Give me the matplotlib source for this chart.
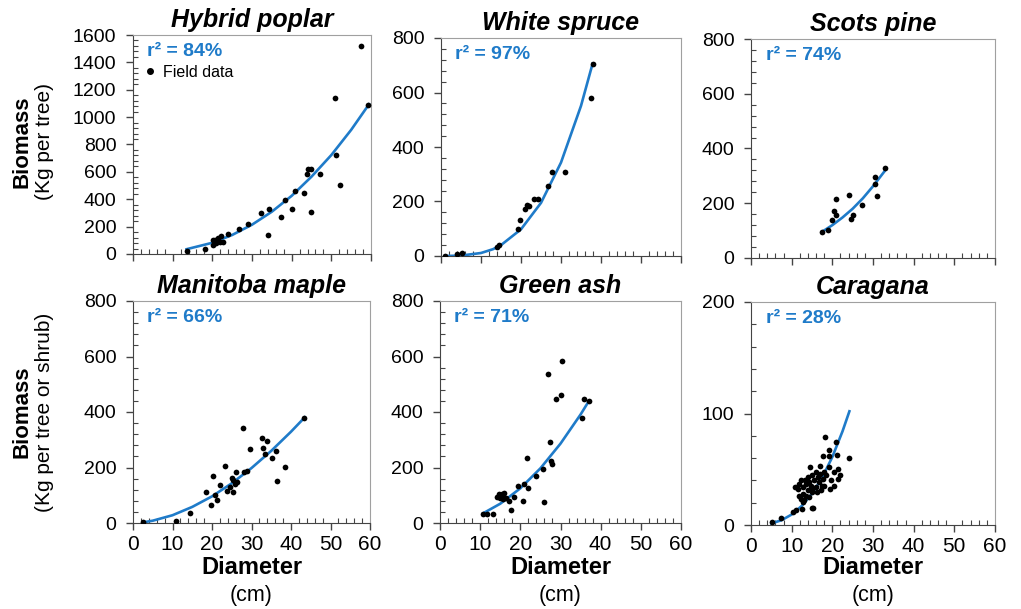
import matplotlib
matplotlib.use('Agg')
import matplotlib.pyplot as plt
from matplotlib.ticker import MultipleLocator
from matplotlib.lines import Line2D

plt.rcParams['font.family'] = ['Liberation Sans', 'DejaVu Sans']

# ---------------- data ----------------
titles = ['Hybrid poplar', 'White spruce', 'Scots pine',
          'Manitoba maple', 'Green ash', 'Caragana']
r2_labels = ['r\u00b2 = 84%', 'r\u00b2 = 97%', 'r\u00b2 = 74%',
             'r\u00b2 = 66%', 'r\u00b2 = 71%', 'r\u00b2 = 28%']

poplar_d = [13.6, 18.1, 20.1, 20.1, 20.7, 21.5, 22.1, 21.9, 22.6, 20.9, 24.0, 26.8, 29.1,
            32.2, 34.4, 34.1, 37.2, 38.3, 40.2, 40.8, 43.2, 43.8, 44.2, 44.9, 44.8, 47.2,
            50.8, 51.3, 52.2, 57.4, 59.3]
poplar_b = [24, 36, 68, 99, 104, 117, 128, 88, 85, 80, 148, 182, 221,
            302, 326, 141, 270, 391, 331, 457, 443, 581, 618, 620, 306, 581,
            1143, 725, 501, 1520, 1087]
poplar_fit_d = [13.5, 20, 25, 30, 35, 40, 45, 50, 55, 59.5]
poplar_fit_b = [35, 82, 139, 214, 309, 425, 565, 723, 907, 1094]

spruce_d = [1.0, 4.1, 5.3, 13.9, 14.6, 19.3, 19.8, 20.9, 21.4, 21.9, 23.3, 24.3, 26.8,
            27.8, 31.0, 37.4, 37.9]
spruce_b = [0, 6, 12, 32, 42, 100, 131, 171, 188, 184, 208, 208, 256,
            307, 307, 578, 705]
spruce_fit_d = [1, 5, 10, 13, 15, 20, 25, 30, 35, 37.9]
spruce_fit_b = [0, 1.5, 11, 25, 40, 98, 195, 343, 551, 706]

pine_d = [17.5, 19.0, 19.9, 20.4, 20.9, 20.9, 24.2, 24.6, 25.0, 27.4, 30.5, 30.5, 31.1, 33.0]
pine_b = [95, 104, 140, 171, 156, 216, 229, 143, 156, 195, 296, 272, 226, 327]
pine_fit_d = [17.4, 20, 22.5, 25, 27.5, 30, 33]
pine_fit_b = [95, 120, 148, 180, 218, 262, 320]

maple_d = [2.5, 10.9, 14.5, 18.5, 19.8, 20.3, 20.7, 21.2, 22.1, 23.2, 23.8, 24.6, 25.0,
           25.3, 25.4, 25.9, 26.0, 26.3, 27.8, 28.0, 28.8, 29.7, 32.6, 33.0, 33.4, 34.0,
           35.3, 36.2, 36.4, 38.6, 43.4]
maple_b = [2, 6, 36, 111, 66, 170, 100, 84, 138, 205, 114, 130, 162,
           110, 154, 141, 184, 146, 344, 182, 187, 268, 308, 271, 247, 296,
           235, 261, 152, 202, 380]
maple_fit_d = [3, 5, 10, 15, 20, 25, 30, 35, 40, 43.5]
maple_fit_b = [3.4, 8.3, 28, 58, 96, 143, 198, 260, 329, 381]

ash_d = [10.8, 11.8, 13.2, 14.2, 14.6, 15.0, 15.4, 15.8, 16.0, 16.5, 15.7, 17.3, 17.7,
         18.5, 19.3, 20.7, 20.8, 21.8, 21.7, 23.9, 25.6, 25.8, 27.3, 27.7, 28.0, 26.9,
         29.0, 30.1, 30.25, 35.4, 35.8, 37.2]
ash_b = [34, 34, 34, 94, 104, 89, 104, 94, 107, 89, 85, 80, 46,
         94, 133, 80, 140, 125, 234, 168, 195, 76, 292, 222, 214, 536,
         448, 461, 582, 377, 446, 438]
ash_fit_d = [10.8, 15, 20, 25, 30, 35, 37]
ash_fit_b = [35.5, 69.5, 125, 197, 286, 391, 438]

caragana_d = [5.1, 7.3, 10.3, 11.0, 12.6, 15.1, 18.2, 19.3, 20.9, 17.6, 19.2, 21.1, 24.2,
              14.5, 17.0, 19.3, 20.3, 21.5, 21.9, 21.5, 16.1, 17.0, 15.1, 16.4, 17.6,
              19.6, 20.3, 19.5, 12.3, 11.9, 11.5, 12.7, 13.5, 14.3, 14.7, 13.9, 15.1,
              15.9, 17.1, 17.5, 16.3, 12.7, 13.5, 12.3, 13.1, 14.3, 15.1, 12.7, 15.3,
              11.7, 10.9, 15.5, 18.0, 18.4, 16.6, 13.9, 13.3, 18.0]
caragana_b = [2.3, 6, 12, 13.5, 14, 15, 79, 67.5, 74, 61.5, 61.5, 62.4, 60,
              52, 53, 52, 47.4, 50.5, 45, 41, 47.4, 46, 44.4, 43, 41.4,
              40, 35.4, 32.4, 40, 37, 32.4, 34, 37, 38.4, 35.4, 31, 32.4,
              34, 31, 35.4, 29.4, 28, 26.4, 23.4, 22, 25, 29.4, 20.4, 15.3,
              26.4, 34, 40, 47.4, 44.4, 38.4, 43, 40.5, 35.4]
caragana_fit_d = [5, 7.5, 10, 12.5, 15, 17.5, 20, 22.5, 24.2]
caragana_fit_b = [1.4, 4.3, 9.4, 17.2, 28.1, 42.5, 61, 84, 102]

x_ticks = [0, 10, 20, 30, 40, 50, 60]
y_ticks_top_left = [0, 200, 400, 600, 800, 1000, 1200, 1400, 1600]
y_ticks_800 = [0, 200, 400, 600, 800]
y_ticks_caragana = [0, 100, 200]

# ---------------- layout ----------------
W, H = 1021, 609
fig = plt.figure(figsize=(W / 100, H / 100), dpi=100)
BLUE = '#1F7BC9'

boxes = [(133, 35, 371, 254), (441, 38, 681, 256), (751, 39, 995, 258),
         (133, 301, 370, 523), (440, 301, 681, 523), (751, 302, 995, 525)]

panels = [
    (poplar_d, poplar_b, poplar_fit_d, poplar_fit_b, y_ticks_top_left, 40),
    (spruce_d, spruce_b, spruce_fit_d, spruce_fit_b, y_ticks_800, 40),
    (pine_d, pine_b, pine_fit_d, pine_fit_b, y_ticks_800, 40),
    (maple_d, maple_b, maple_fit_d, maple_fit_b, y_ticks_800, 40),
    (ash_d, ash_b, ash_fit_d, ash_fit_b, y_ticks_800, 40),
    (caragana_d, caragana_b, caragana_fit_d, caragana_fit_b, y_ticks_caragana, 20),
]

for i, (box, (xd, yd, fx, fy, yt, yminor)) in enumerate(zip(boxes, panels)):
    l, t, r, b = box
    ax = fig.add_axes([l / W, 1 - b / H, (r - l) / W, (b - t) / H])
    ax.plot(fx, fy, color=BLUE, lw=1.9, zorder=2)
    ax.scatter(xd, yd, s=17, color='black', zorder=3, linewidths=0)
    ax.set_xlim(0, 60)
    ax.set_ylim(yt[0], yt[-1])
    ax.set_xticks(x_ticks)
    ax.set_yticks(yt)
    ax.xaxis.set_minor_locator(MultipleLocator(2))
    ax.yaxis.set_minor_locator(MultipleLocator(yminor))
    ax.tick_params(which='major', direction='out', length=5, width=1, color='#444444')
    ax.tick_params(which='minor', direction='in', length=3.5, width=0.8, color='#444444')
    ax.tick_params(axis='y', which='major', labelsize=14, pad=7)
    for s in ['left', 'bottom']:
        ax.spines[s].set_color('#444444')
    for s in ['top', 'right']:
        ax.spines[s].set_color('#a0a0a0')
    if i < 3:
        ax.tick_params(axis='x', labelbottom=False)
    else:
        ax.tick_params(axis='x', which='major', labelsize=15, pad=4)
    ax.set_title(titles[i], fontsize=18, fontweight='bold', style='italic', pad=6)
    ax.text(0.06, 0.925, r2_labels[i], transform=ax.transAxes, color=BLUE,
            fontsize=14, fontweight='bold', va='center', ha='left')
    if i == 0:
        h = Line2D([], [], marker='o', ls='', color='black', markersize=4)
        ax.legend([h], ['Field data'], loc='center left', bbox_to_anchor=(0.045, 0.83),
                  frameon=False, fontsize=11.5, handlelength=0.8, handletextpad=0.4,
                  borderaxespad=0, borderpad=0)
    if i >= 3:
        cx = (l + r) / 2 / W
        fig.text(cx, 1 - 568 / H, 'Diameter', ha='center', va='center',
                 fontsize=17, fontweight='bold')
        fig.text(cx, 1 - 595 / H, '(cm)', ha='center', va='center', fontsize=15.5)

fig.text(22 / W, 1 - 142 / H, 'Biomass', rotation=90, ha='center', va='center',
         fontsize=16, fontweight='bold')
fig.text(45 / W, 1 - 142 / H, '(Kg per tree)', rotation=90, ha='center', va='center',
         fontsize=15)
fig.text(22 / W, 1 - 412 / H, 'Biomass', rotation=90, ha='center', va='center',
         fontsize=16, fontweight='bold')
fig.text(45 / W, 1 - 412 / H, '(Kg per tree or shrub)', rotation=90, ha='center',
         va='center', fontsize=15)

fig.savefig('out.png', dpi=100)
